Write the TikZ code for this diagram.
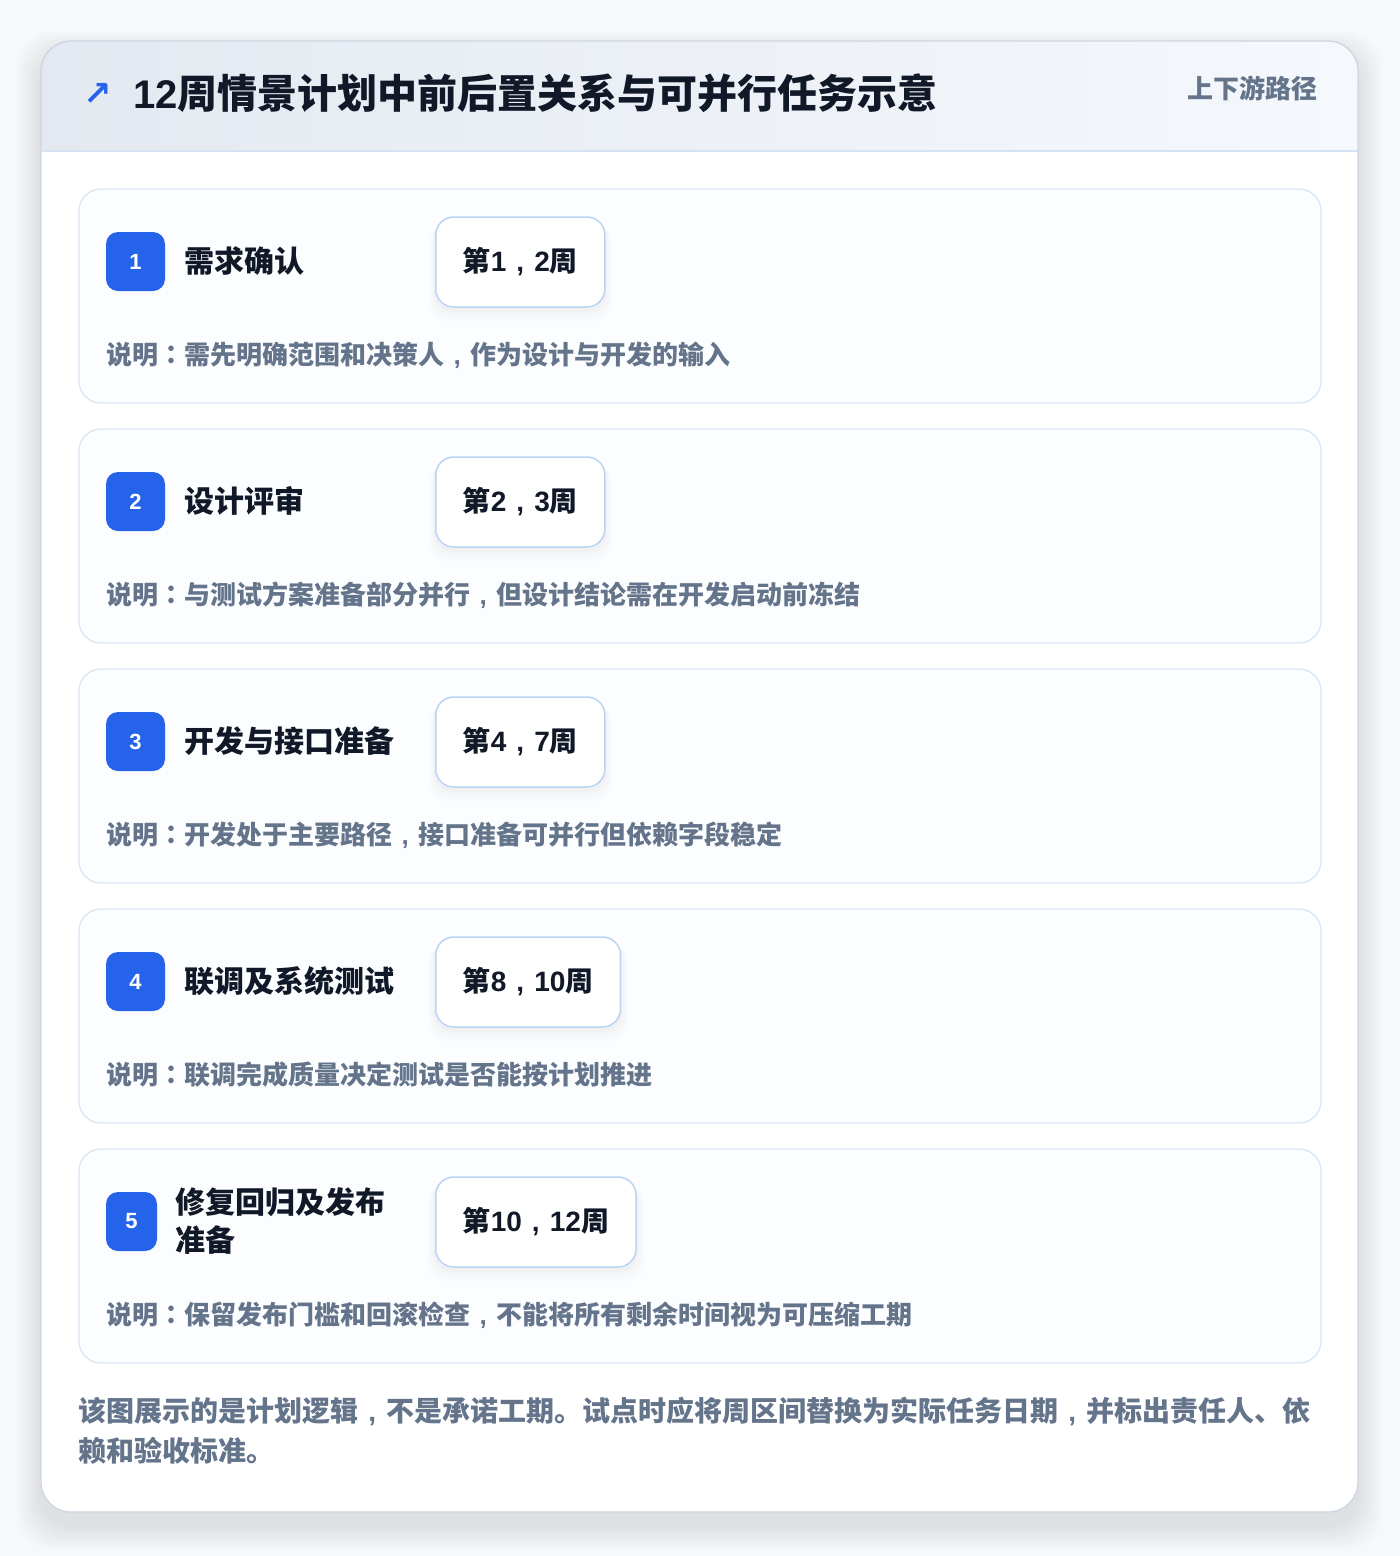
\documentclass[tikz,border=0pt]{standalone}
\usepackage{fontspec}
\setmainfont{Noto Sans CJK SC}
\newfontfamily\arrowfont{DejaVu Sans}
\newfontfamily\latnumfont{Liberation Sans}
\newfontfamily\tcpunct{Noto Sans CJK TC}
\newcommand\latnum[1]{{\latnumfont #1}}
\newcommand\cmma{\makebox[1em][c]{\latnumfont ,}}
\newcommand\cln{{\tcpunct ：}}
\usetikzlibrary{shadows}
\definecolor{pagebg}{HTML}{F7F8FA}
\definecolor{cardborder}{HTML}{CDD6E2}
\definecolor{hdrA}{HTML}{E4E9F1}
\definecolor{hdrB}{HTML}{F5F8FC}
\definecolor{hdrline}{HTML}{D5E2F3}
\definecolor{stepline}{HTML}{D8E5F6}
\definecolor{stepfill}{HTML}{FCFDFE}
\definecolor{badgeblue}{HTML}{2563EB}
\definecolor{pillline}{HTML}{BCD4F3}
\definecolor{ink}{HTML}{111827}
\definecolor{slate}{HTML}{64748B}
\tikzset{
  stepcard/.style={draw=stepline, fill=stepfill, line width=1.3pt, rounded corners=22pt,
    minimum width=1242pt, minimum height=214pt, inner sep=0pt},
  badge/.style={fill=badgeblue, rounded corners=12pt, minimum width=59pt, minimum height=59pt,
    inner sep=0pt, text=white, font=\latnumfont\bfseries\fontsize{22}{22}\selectfont},
  pill/.style={draw=pillline, fill=white, line width=1.5pt, rounded corners=18pt,
    minimum height=90pt, inner xsep=27pt, inner ysep=0pt, anchor=west, text=ink,
    font=\bfseries\fontsize{28}{28}\selectfont,
    general shadow={fill=black, opacity=0.010, shadow scale=1.08, shadow yshift=-10pt},
    general shadow={fill=black, opacity=0.014, shadow scale=1.05, shadow yshift=-7pt},
    general shadow={fill=black, opacity=0.018, shadow scale=1.02, shadow yshift=-4pt}},
  steptitle/.style={anchor=west, inner sep=0pt, text=ink, align=left,
    font=\bfseries\fontsize{30}{38}\selectfont},
  stepdesc/.style={anchor=west, inner sep=0pt, text=slate,
    font=\bfseries\fontsize{26}{26}\selectfont},
}
\begin{document}
\begin{tikzpicture}[x=1pt,y=-1pt]
\useasboundingbox (0,0) rectangle (1400,1556);
\fill[pagebg] (0,0) rectangle (1400,1556);
% soft shadow of the outer card
\foreach \i in {2,4,...,24}
  \fill[black, opacity=0.006, rounded corners=36pt] (41-\i, 41-\i+14) rectangle (1358+\i, 1512+\i+14);
% outer card
\fill[white, rounded corners=30pt] (41,41) rectangle (1358,1512);
\begin{scope}
  \clip[rounded corners=30pt] (41,41) rectangle (1358,1512);
  \fill[left color=hdrA, right color=hdrB] (41,41) rectangle (1358,151);
\end{scope}
\draw[hdrline, line width=1.5pt] (41,151) -- (1358,151);
\node[draw=cardborder, line width=1.3pt, rounded corners=30pt, minimum width=1317pt,
  minimum height=1471pt, inner sep=0pt] (card) at (699.5,776.5) {};
% header
\node[text=badgeblue, inner sep=0pt, font=\arrowfont\bfseries\fontsize{34}{34}\selectfont] (arrow) at (98,94) {↗};
\node[anchor=west, inner sep=0pt, text=ink, font=\bfseries\fontsize{40}{40}\selectfont] (title) at (133,93)
  {\latnum{12}周情景计划中前后置关系与可并行任务示意};
\node[anchor=east, inner sep=0pt, text=slate, font=\bfseries\fontsize{26}{26}\selectfont] (tag) at (1318,88) {上下游路径};
% step 1
\node[stepcard] (c1) at (700,296) {};
\node[badge] (b1) at (135.5,261.5) {1};
\node[steptitle] (t1) at (184,261) {需求确认};
\node[pill] (p1) at (435,262) {第\latnum{1}\cmma\latnum{2}周};
\node[stepdesc] (d1) at (106,355) {说明\cln 需先明确范围和决策人\cmma 作为设计与开发的输入};
% step 2
\node[stepcard] (c2) at (700,536) {};
\node[badge] (b2) at (135.5,501.5) {2};
\node[steptitle] (t2) at (184,501) {设计评审};
\node[pill] (p2) at (435,502) {第\latnum{2}\cmma\latnum{3}周};
\node[stepdesc] (d2) at (106,595) {说明\cln 与测试方案准备部分并行\cmma 但设计结论需在开发启动前冻结};
% step 3
\node[stepcard] (c3) at (700,776) {};
\node[badge] (b3) at (135.5,741.5) {3};
\node[steptitle] (t3) at (184,741) {开发与接口准备};
\node[pill] (p3) at (435,742) {第\latnum{4}\cmma\latnum{7}周};
\node[stepdesc] (d3) at (106,835) {说明\cln 开发处于主要路径\cmma 接口准备可并行但依赖字段稳定};
% step 4
\node[stepcard] (c4) at (700,1016) {};
\node[badge] (b4) at (135.5,981.5) {4};
\node[steptitle] (t4) at (184,981) {联调及系统测试};
\node[pill] (p4) at (435,982) {第\latnum{8}\cmma\latnum{10}周};
\node[stepdesc] (d4) at (106,1075) {说明\cln 联调完成质量决定测试是否能按计划推进};
% step 5
\node[stepcard] (c5) at (700,1256) {};
\node[badge, minimum width=51pt] (b5) at (131.5,1221.5) {5};
\node[steptitle] (t5) at (175,1221) {修复回归及发布\\准备};
\node[pill] (p5) at (435,1222) {第\latnum{10}\cmma\latnum{12}周};
\node[stepdesc] (d5) at (106,1315) {说明\cln 保留发布门槛和回滚检查\cmma 不能将所有剩余时间视为可压缩工期};
% footer
\node[anchor=west, inner sep=0pt, text=slate, align=left, font=\bfseries\fontsize{28}{40}\selectfont] (foot) at (78,1431)
  {该图展示的是计划逻辑\cmma 不是承诺工期。试点时应将周区间替换为实际任务日期\cmma 并标出责任人、依\\赖和验收标准。};
\end{tikzpicture}
\end{document}
